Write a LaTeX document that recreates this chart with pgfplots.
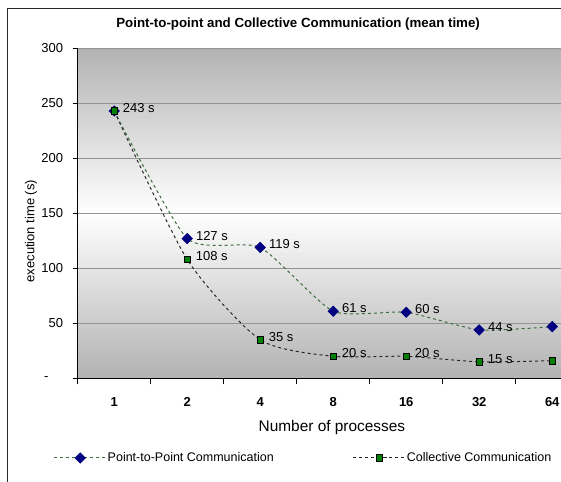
\documentclass[border=0pt]{standalone}
\usepackage{pgfplots}
\pgfplotsset{compat=1.18}
\usepackage{fontspec}
\setmainfont{Liberation Sans}

\definecolor{ptline}{RGB}{60,110,60}
\definecolor{ptmark}{RGB}{0,0,128}
\definecolor{colmark}{RGB}{0,128,0}
\definecolor{colline}{RGB}{40,40,40}

\newcommand\fs[1]{\fontsize{#1bp}{#1bp}\selectfont}

\begin{document}
\begin{tikzpicture}
% plot area gradient (grey - white - grey), drawn in strips under the axis
\foreach \i in {0,...,65}{
  \pgfmathsetmacro\g{30*abs(2*(\i+0.5)/66-1)}
  \fill[black!\g] (0,\i*5bp) rectangle (483.3bp,{min(\i*5bp+5.4bp,330bp)});
}
\begin{axis}[
    scale only axis,
    width=483.3bp, height=330bp,
    xmin=-0.5, xmax=6.12,
    ymin=0, ymax=300,
    /pgf/number format/assume math mode=true,
    axis x line=bottom, axis y line=left,
    axis line style={-, black, line width=1bp},
    tick align=outside,
    xtick={0,...,6},
    xticklabels={1,2,4,8,16,32,64},
    major x tick style={draw=none},
    minor xtick={-0.5,0.5,...,5.5},
    minor x tick style={black, line width=1bp},
    minor tick length=6bp,
    major tick length=5bp,
    ytick={0,50,...,300},
    yticklabels={\makebox[19bp][l]{-},50,100,150,200,250,300},
    y tick style={black, line width=1bp},
    xticklabel style={font=\fs{13}\bfseries, yshift=-11bp},
    yticklabel style={font=\fs{13}, xshift=-6bp},
    ymajorgrids=true,
    grid style={draw=black!42, line width=1bp},
    title={Point-to-point and Collective Communication (mean time)},
    title style={font=\fs{13.3}\bfseries, at={(rel axis cs:0.456,1.0464)}, anchor=base},
    xlabel={Number of processes},
    xlabel style={font=\fs{15.4}, at={(rel axis cs:0.526,-0.1618)}, anchor=base},
    ylabel={execution time (s)},
    ylabel style={font=\fs{13}, at={(rel axis cs:-0.0966,0.446)}, anchor=center},
    point meta=explicit symbolic,
    nodes near coords,
    every node near coord/.append style={font=\fs{13}, anchor=west, xshift=5bp, yshift=3bp, text=black},
    legend columns=2,
    legend cell align=left,
    legend style={draw=none, fill=none, inner sep=0pt,
        font=\fs{12.5},
        at={(rel axis cs:-0.05,-0.2414)}, anchor=west,
        nodes={inner sep=1bp},
        /tikz/every even column/.append style={column sep=78bp}},
    legend image code/.code={
        \draw[mark repeat=2, mark phase=2] plot coordinates {(0bp,0bp) (26bp,0bp) (52bp,0bp)};
    },
]

\addplot[ptline, line width=1bp, dash pattern=on 3bp off 3bp, smooth, tension=0.35,
    mark=square*, mark size=3.5bp,
    mark options={solid, rotate=45, fill=ptmark, draw=ptmark}]
    coordinates {(0,243)[~] (1,127)[127 s] (2,119)[119 s] (3,61)[61 s]
                 (4,60)[60 s] (5,44)[44 s] (6,47)[~]};
\addlegendentry{Point-to-Point Communication}

\addplot[colline, line width=1bp, dash pattern=on 3bp off 3bp, smooth, tension=0.4,
    mark=square*, mark size=3.2bp,
    mark options={solid, fill=colmark, draw=black, line width=0.8bp}]
    coordinates {(0,243)[243 s] (1,108)[108 s] (2,35)[35 s] (3,20)[20 s]
                 (4,20)[20 s] (5,15)[15 s] (6,16)[~]};
\addlegendentry{Collective Communication}

\coordinate (bl) at (rel axis cs:0,0);
\coordinate (tr) at (rel axis cs:1,1);
\end{axis}
\draw[black!85, line width=1bp] ([xshift=-70.4bp,yshift=-120bp]bl) |- ([xshift=20bp,yshift=39.3bp]tr);
\pgfresetboundingbox
\path[use as bounding box] ([xshift=-77.7bp,yshift=-103.7bp]bl) rectangle ([yshift=48.3bp]tr);
\end{tikzpicture}
\end{document}
